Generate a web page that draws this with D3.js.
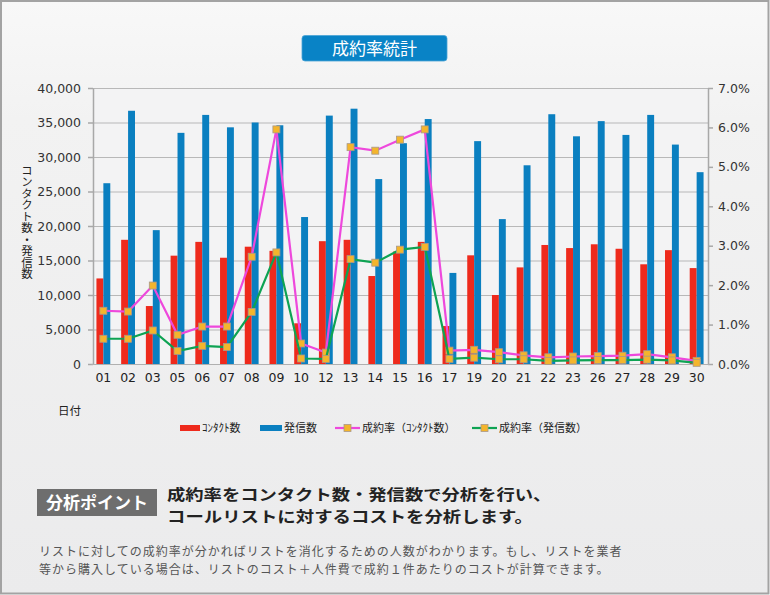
<!DOCTYPE html>
<html><head><meta charset="utf-8">
<script src="https://cdn.jsdelivr.net/npm/d3@7"></script>
<style>body{margin:0;padding:0;background:#fff;}svg{display:block;}</style>
</head><body>
<script>
const dates = ["01","02","03","05","06","07","08","09","10","12","13","14","15","16","17","19","20","21","22","23","26","27","28","29","30"];
const contacts = [12400,18000,8400,15700,17700,15400,17000,16400,5900,17800,18000,12750,16300,17700,5500,15750,10000,14000,17250,16800,17350,16700,14450,16500,13900];
const calls    = [26200,36700,19400,33500,36100,34300,35000,34600,21300,36000,37000,26800,32000,35500,13200,32300,21000,28800,36200,33000,35200,33200,36100,31800,27800];
const rateContact = [1.35,1.33,1.99,0.74,0.95,0.95,2.72,5.95,0.52,0.29,5.50,5.41,5.69,5.95,0.34,0.36,0.30,0.22,0.17,0.19,0.20,0.21,0.25,0.17,0.08];
const rateCalls   = [0.64,0.64,0.85,0.33,0.46,0.43,1.32,2.83,0.14,0.13,2.66,2.57,2.90,2.97,0.13,0.16,0.12,0.12,0.08,0.09,0.10,0.10,0.11,0.09,0.03];
const leftTicks = [0,5000,10000,15000,20000,25000,30000,35000,40000];
const rightTicks = [0,1,2,3,4,5,6,7];
const seriesNames = ["ｺﾝﾀｸﾄ数","発信数","成約率（ｺﾝﾀｸﾄ数）","成約率（発信数）"];
const headingLines = ["成約率をコンタクト数・発信数で分析を行い、","コールリストに対するコストを分析します。"];
const bodyLines = ["リストに対しての成約率が分かればリストを消化するための人数がわかります。もし、リストを業者",
                   "等から購入している場合は、リストのコスト＋人件費で成約１件あたりのコストが計算できます。"];

const W=770,H=595;
const svg=d3.select("body").append("svg").attr("width",W).attr("height",H);
const defs=svg.append("defs");
const g1=defs.append("linearGradient").attr("id","bg").attr("x1",0).attr("y1",0).attr("x2",0).attr("y2",1);
g1.append("stop").attr("offset","0").attr("stop-color","#f8f8f8");
g1.append("stop").attr("offset","0.2").attr("stop-color","#f2f2f2");
g1.append("stop").attr("offset","1").attr("stop-color","#ebebec");
svg.append("rect").attr("x",1).attr("y",1).attr("width",W-2.5).attr("height",H-2.5)
  .attr("fill","url(#bg)").attr("stroke","#a3a3a3").attr("stroke-width",2);

svg.append("rect").attr("x",302).attr("y",35.5).attr("width",145).attr("height",25.5).attr("rx",3)
  .attr("fill","#0983c6").attr("stroke","#4aa3d6").attr("stroke-width",0.8);
svg.append("text").attr("x",374.5).attr("y",54.5).attr("text-anchor","middle")
  .attr("font-family","'Noto Sans CJK JP'").attr("font-size",17).attr("fill","#fff").text("成約率統計");

const x0=91,x1=709,yTop=88,yBot=364;
const x=d3.scaleBand().domain(dates).range([x0,x1]).paddingInner(0.44).paddingOuter(0.22);
const xs=d3.scaleBand().domain(["c","s"]).range([0,x.bandwidth()]);
const y=d3.scaleLinear().domain([0,40000]).range([yBot,yTop]);
const y2=d3.scaleLinear().domain([0,7]).range([yBot,yTop]);

svg.append("rect").attr("x",93).attr("y",yTop).attr("width",708-93).attr("height",yBot-yTop).attr("fill","#f3f3f4");

svg.append("g").attr("transform",`translate(93,0)`)
  .call(d3.axisLeft(y).tickValues(leftTicks).tickSize(-(708-93)).tickFormat(""))
  .call(g=>{g.select(".domain").remove();g.selectAll("line").attr("stroke","#b8b8b8").attr("stroke-width",1.2);});

const gb=svg.append("g");
gb.selectAll("rect.c").data(dates).enter().append("rect")
  .attr("x",d=>x(d)+xs("c")).attr("width",xs.bandwidth())
  .attr("y",(d,i)=>y(contacts[i])).attr("height",(d,i)=>yBot-y(contacts[i])).attr("fill","#ee2a1c");
gb.selectAll("rect.s").data(dates).enter().append("rect")
  .attr("x",d=>x(d)+xs("s")).attr("width",xs.bandwidth())
  .attr("y",(d,i)=>y(calls[i])).attr("height",(d,i)=>yBot-y(calls[i])).attr("fill","#0a7fc0");

const fnt="'DejaVu Sans', Verdana, sans-serif";
svg.append("g").attr("transform","translate(93,0)")
  .call(d3.axisLeft(y).tickValues(leftTicks).tickSize(5).tickSizeOuter(0).tickPadding(7).tickFormat(d3.format(",")))
  .call(g=>{g.selectAll("line,path").attr("stroke","#a8a8a8").attr("stroke-width",1.5);
    g.selectAll("text").attr("font-family",fnt).attr("font-size",12.5).attr("fill","#333");});
svg.append("g").attr("transform","translate(708,0)")
  .call(d3.axisRight(y2).tickValues(rightTicks).tickSize(5).tickSizeOuter(0).tickPadding(5).tickFormat(d=>d.toFixed(1)+"%"))
  .call(g=>{g.selectAll("line,path").attr("stroke","#a8a8a8").attr("stroke-width",1.5);
    g.selectAll("text").attr("font-family",fnt).attr("font-size",12.5).attr("fill","#333");});
svg.append("g").attr("transform",`translate(0,${yBot})`)
  .call(d3.axisBottom(x).tickSize(0).tickPadding(9))
  .call(g=>{g.select(".domain").attr("stroke","#b0b0b0").attr("stroke-width",1.2);
    g.selectAll("text").attr("font-family",fnt).attr("font-size",12.5).attr("fill","#222");});

const cx=d=>x(d)+x.bandwidth()/2;
function drawLine(vals,color){
  const line=d3.line().x((v,i)=>cx(dates[i])).y(v=>y2(v));
  svg.append("path").datum(vals).attr("d",line).attr("fill","none").attr("stroke",color).attr("stroke-width",2.2);
  svg.append("g").selectAll("rect").data(vals).enter().append("rect")
    .attr("x",(v,i)=>cx(dates[i])-3.5).attr("y",v=>y2(v)-3.5).attr("width",7).attr("height",7)
    .attr("fill","#f4b52c").attr("stroke","#a8988a").attr("stroke-width",0.8);
}
drawLine(rateContact,"#ee48dc");
drawLine(rateCalls,"#0ea353");

const jp="'Noto Sans CJK JP'";
svg.append("text").attr("x",27).attr("y",222).attr("text-anchor","middle")
  .attr("font-family",jp).attr("font-size",11.5).attr("fill","#222")
  .style("writing-mode","vertical-rl").style("text-orientation","upright")
  .text("コンタクト数・発信数");
svg.append("text").attr("x",58).attr("y",415).attr("font-family",jp).attr("font-size",11.5).attr("fill","#222").text("日付");

const lg=svg.append("g").attr("font-family",jp).attr("font-size",11).attr("fill","#222");
lg.append("rect").attr("x",180).attr("y",425).attr("width",20).attr("height",6).attr("fill","#ee2a1c");
lg.append("text").attr("x",202).attr("y",432).text(seriesNames[0]);
lg.append("rect").attr("x",260).attr("y",425).attr("width",22).attr("height",6).attr("fill","#0a7fc0");
lg.append("text").attr("x",284).attr("y",432).text(seriesNames[1]);
[[335,"#ee48dc",seriesNames[2]],[472,"#0ea353",seriesNames[3]]].forEach(([lx,c,t])=>{
  lg.append("line").attr("x1",lx).attr("x2",lx+25).attr("y1",428).attr("y2",428).attr("stroke",c).attr("stroke-width",2.2);
  lg.append("rect").attr("x",lx+9).attr("y",424.5).attr("width",7).attr("height",7).attr("fill","#f4b52c").attr("stroke","#a8988a").attr("stroke-width",0.8);
  lg.append("text").attr("x",lx+27).attr("y",432).text(t);
});

svg.append("rect").attr("x",37).attr("y",489).attr("width",120).attr("height",27).attr("fill","#6e6e6e");
svg.append("text").attr("x",97).attr("y",509).attr("text-anchor","middle").attr("font-family",jp).attr("font-weight","bold")
  .attr("font-size",17).attr("fill","#fff").text("分析ポイント");
headingLines.forEach((t,i)=>svg.append("text").attr("x",167).attr("y",500+i*22)
  .attr("font-family",jp).attr("font-weight","bold").attr("font-size",15).attr("fill","#222")
  .attr("textLength",t.length*18.3).attr("lengthAdjust","spacingAndGlyphs").text(t));
bodyLines.forEach((t,i)=>svg.append("text").attr("x",39).attr("y",556+i*17.5)
  .attr("font-family",jp).attr("font-size",12).attr("letter-spacing",1).attr("fill","#555").text(t));
</script>
</body></html>
